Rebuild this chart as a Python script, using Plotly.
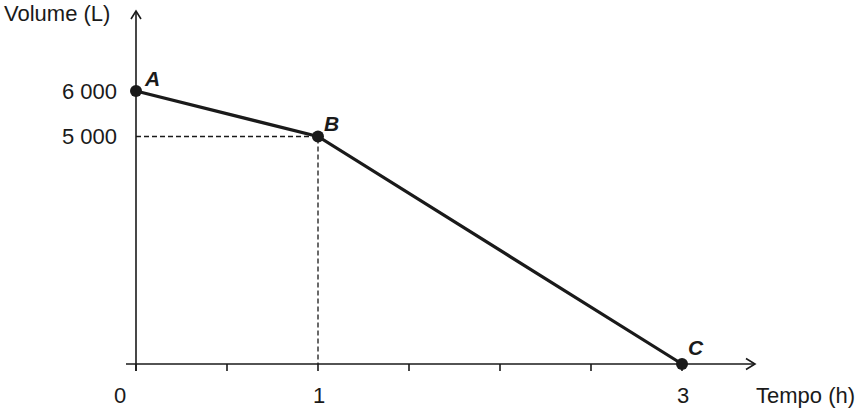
import plotly.graph_objects as go

# Data
time_h = [0, 1, 3]
volume_l = [6000, 5000, 0]
point_labels = ["A", "B", "C"]
x_tick_vals = [0, 0.5, 1, 1.5, 2, 2.5, 3]
x_label_vals = [0, 1, 3]
x_label_text = ["0", "1", "3"]
y_label_vals = [6000, 5000]
y_label_text = ["6 000", "5 000"]
x_title = "Tempo (h)"
y_title = "Volume (L)"

W, H = 863, 412
PX_PER_H = 182.0
PX_PER_L = 273.0 / 6000.0
x0px, y0px = 136.0, 364.0
XR = [-x0px / PX_PER_H, (W - x0px) / PX_PER_H]
YR = [-(H - y0px) / PX_PER_L, y0px / PX_PER_L]


def dx(px):
    return px / PX_PER_H


def dy(px):
    return px / PX_PER_L


FONT = "Liberation Sans, Arial, Helvetica, sans-serif"
INK = "#1a1a1a"
FS = 22

fig = go.Figure()

# dashed guide lines to B
fig.add_trace(go.Scatter(
    x=[0, time_h[1], time_h[1]], y=[volume_l[1], volume_l[1], 0],
    mode="lines", line=dict(color=INK, width=1.3, dash="5px,3px"),
    hoverinfo="skip", showlegend=False))

shapes = []
x_end = dx(755 - 136)
y_end = dy(364 - 11)
shapes.append(dict(type="line", xref="x", yref="y", x0=-dx(10), x1=x_end,
                   y0=0, y1=0, line=dict(color=INK, width=1.6)))
shapes.append(dict(type="line", xref="x", yref="y", x0=0, x1=0,
                   y0=-dy(7), y1=y_end, line=dict(color=INK, width=1.6)))
shapes.append(dict(type="path", xref="x", yref="y",
                   path=f"M {x_end - dx(9)} {dy(5.5)} L {x_end} 0 L {x_end - dx(9)} {-dy(5.5)}",
                   line=dict(color=INK, width=1.6)))
shapes.append(dict(type="path", xref="x", yref="y",
                   path=f"M {-dx(5)} {y_end - dy(8)} L 0 {y_end} L {dx(5)} {y_end - dy(8)}",
                   line=dict(color=INK, width=1.6)))
for t in x_tick_vals:
    shapes.append(dict(type="line", xref="x", yref="y", x0=t, x1=t, y0=0, y1=-dy(7),
                       line=dict(color=INK, width=1.6)))

fig.add_trace(go.Scatter(
    x=time_h, y=volume_l, mode="lines+markers",
    line=dict(color=INK, width=3.2),
    marker=dict(color=INK, size=12),
    hoverinfo="skip", showlegend=False))

annotations = []
offs = [(16, 13), (13, 13), (14, 17)]
for xv, yv, lab, (ox, oy) in zip(time_h, volume_l, point_labels, offs):
    annotations.append(dict(x=xv + dx(ox), y=yv + dy(oy), xref="x", yref="y",
                            text=f"<b><i>{lab}</i></b>", showarrow=False,
                            font=dict(family=FONT, size=FS - 1, color=INK)))
for xv, t in zip(x_label_vals, x_label_text):
    shift = -16 if xv == 0 else 1
    annotations.append(dict(x=xv + dx(shift), y=-dy(31), xref="x", yref="y", text=t,
                            showarrow=False, font=dict(family=FONT, size=FS, color=INK)))
for yv, t in zip(y_label_vals, y_label_text):
    annotations.append(dict(x=-dx(17), y=yv, xref="x", yref="y", text=t, xanchor="right",
                            showarrow=False, font=dict(family=FONT, size=FS, color=INK)))
annotations.append(dict(x=dx(754 - 136), y=-dy(31), xref="x", yref="y", text=x_title,
                        xanchor="left", showarrow=False,
                        font=dict(family=FONT, size=FS, color=INK)))
annotations.append(dict(x=-dx(136 - 2), y=dy(364 - 13), xref="x", yref="y", text=y_title,
                        xanchor="left", showarrow=False,
                        font=dict(family=FONT, size=FS, color=INK)))

fig.update_layout(
    width=W, height=H, autosize=False,
    margin=dict(l=0, r=0, t=0, b=0),
    paper_bgcolor="white", plot_bgcolor="white",
    xaxis=dict(range=XR, visible=False, fixedrange=True),
    yaxis=dict(range=YR, visible=False, fixedrange=True),
    shapes=shapes, annotations=annotations,
)

fig.write_html("out.html", config={"displayModeBar": False},
               post_script="document.body.style.margin='0';document.body.style.overflow='hidden';")
